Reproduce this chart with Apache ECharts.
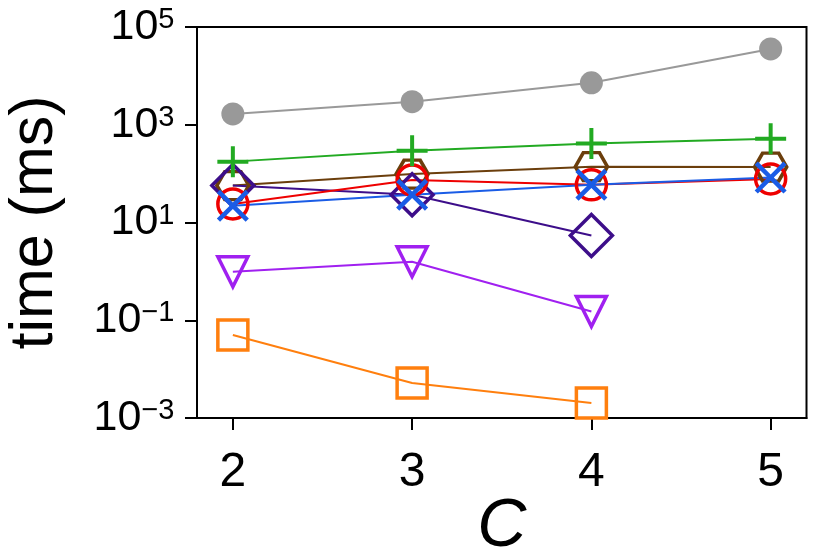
<!DOCTYPE html>
<html>
<head>
<meta charset="utf-8">
<script src="https://cdn.jsdelivr.net/npm/echarts@6/dist/echarts.min.js"></script>
<style>
  html, body { margin: 0; padding: 0; background: #fff; }
  #chart { width: 830px; height: 554px; }
</style>
</head>
<body>
<div id="chart"></div>
<script>
const cValues = [2, 3, 4, 5];
const yTicks = [1e-3, 1e-1, 1e1, 1e3, 1e5];

const grayTimes   = [1660, 2970, 7200, 35500];
const greenTimes  = [176, 295, 411, 520];
const brownTimes  = [57, 98, 139, 136];
const redTimes    = [24, 74, 59, 78];
const blueTimes   = [22, 37, 59, 83];
const indigoTimes = [57, 37, 5.4];
const purpleTimes = [0.98, 1.58, 0.151];
const orangeTimes = [0.050, 0.0052, 0.00202];

const FONT = 'Liberation Sans, Arial, sans-serif';

const plusPath = 'path://M13.5,0 H17.5 V13.5 H31 V17.5 H17.5 V31 H13.5 V17.5 H0 V13.5 H13.5 Z';
const xPath = (function () {
  const s = 32, d = 3.2, h = s / 2;
  const pts = [[0, d], [d, 0], [h, h - d], [s - d, 0], [s, d], [h + d, h], [s, s - d], [s - d, s], [h, h + d], [d, s], [0, s - d], [h - d, h]];
  return 'path://M' + pts.map(p => p.join(',')).join(' L') + ' Z';
})();
const hexPath = 'path://M8,0 L24,0 L32,14 L24,28 L8,28 L0,14 Z';

function pairs(ys) {
  return ys.map((y, i) => [cValues[i], y]);
}

function line(data, color, symbol, size, filled, extra) {
  return Object.assign({
    type: 'line',
    data: pairs(data),
    symbol: symbol,
    symbolSize: size,
    showSymbol: true,
    lineStyle: { color: color, width: 2 },
    itemStyle: filled
      ? { color: color, borderWidth: 0 }
      : { color: 'rgba(0,0,0,0)', borderColor: color, borderWidth: 3.5 },
    emphasis: { disabled: true },
    z: 2
  }, extra || {});
}

const chart = echarts.init(document.getElementById('chart'), null, { renderer: 'canvas' });

const option = {
  animation: false,
  backgroundColor: '#fff',
  grid: {
    left: 197, right: 23.5, top: 27, bottom: 136,
    containLabel: false,
    outerBoundsMode: 'none',
    show: true, borderColor: '#000', borderWidth: 2, backgroundColor: 'transparent'
  },
  xAxis: {
    type: 'value',
    min: 1.8,
    max: 5.2,
    name: 'C',
    nameLocation: 'middle',
    nameGap: 75,
    nameMoveOverlap: false,
    nameTextStyle: { fontFamily: FONT, fontSize: 68, fontStyle: 'italic', color: '#000' },
    axisLine: { show: true, onZero: false, lineStyle: { color: '#000', width: 2 } },
    axisTick: { show: true, length: 12, lineStyle: { color: '#000', width: 2 }, customValues: cValues },
    axisLabel: { fontFamily: FONT, fontSize: 48, color: '#000', margin: 31, customValues: cValues },
    splitLine: { show: false }
  },
  yAxis: {
    type: 'log',
    logBase: 10,
    min: 1e-3,
    max: 1e5,
    name: 'time (ms)',
    nameLocation: 'middle',
    nameRotate: 90,
    nameGap: 131,
    nameMoveOverlap: false,
    nameTextStyle: { fontFamily: FONT, fontSize: 61, color: '#000' },
    axisLine: { show: true, lineStyle: { color: '#000', width: 2 } },
    axisTick: { show: true, length: 12, lineStyle: { color: '#000', width: 2 }, customValues: yTicks },
    axisLabel: {
      customValues: yTicks,
      fontFamily: FONT, fontSize: 43, color: '#000', margin: 22.5,
      formatter: function (v) {
        const e = Math.round(Math.log10(v));
        return '10{s|' + (e < 0 ? '\u2212' + (-e) : e) + '}';
      },
      rich: {
        s: { fontFamily: FONT, fontSize: 29, color: '#000', verticalAlign: 'top', lineHeight: 29 }
      }
    },
    splitLine: { show: false }
  },
  series: [
    line(grayTimes, '#999999', 'circle', 23, true),
    line(orangeTimes, '#ff7f0e', 'rect', 30, false),
    line(purpleTimes, '#a020f0', 'triangle', 30, false, { symbolRotate: 180 }),
    line(brownTimes, '#6b3e0c', hexPath, [32, 28], false),
    line(indigoTimes, '#3d0e8a', 'diamond', 42, false),
    line(redTimes, '#ee0000', 'circle', 30, false),
    line(blueTimes, '#1a5ce6', xPath, 32, true),
    line(greenTimes, '#22aa22', plusPath, 31, true)
  ]
};

chart.setOption(option);
window.addEventListener('resize', () => chart.resize());
</script>
</body>
</html>
